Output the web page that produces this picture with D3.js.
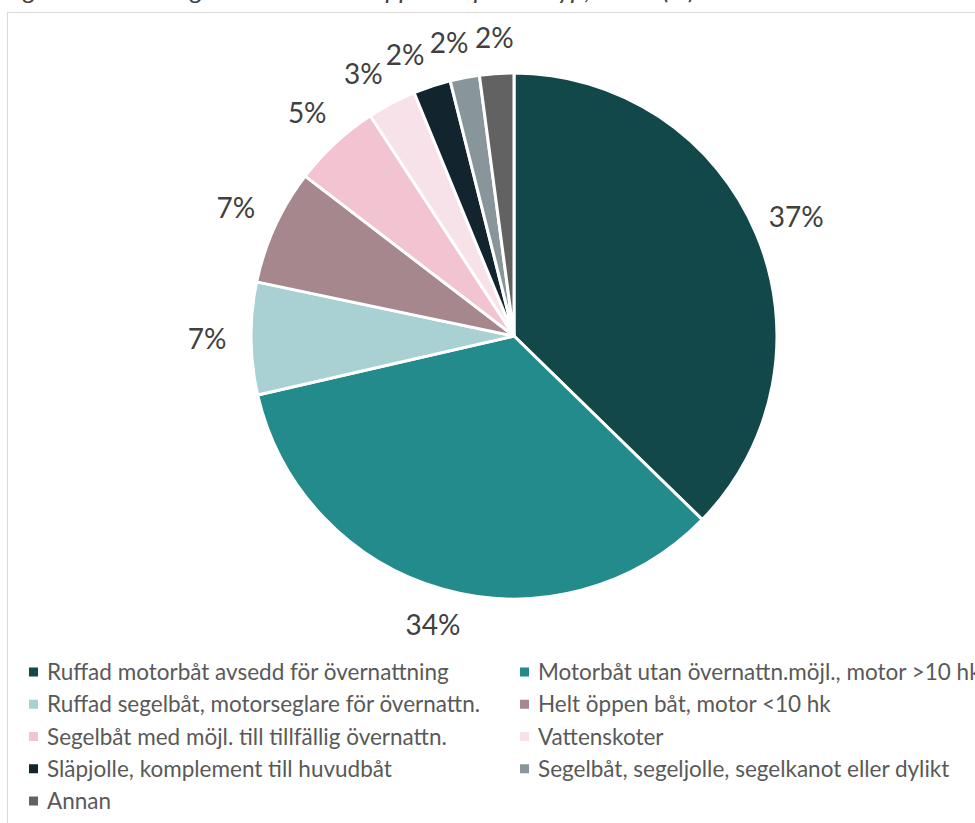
<!DOCTYPE html>
<html>
<head>
<meta charset="utf-8">
<script src="https://cdn.jsdelivr.net/npm/d3@7"></script>
<style>
  body { margin: 0; background: #fff; }
  svg { display: block; }
</style>
</head>
<body>
<div id="pieChart"></div>
<script>
// kategorier och andelar (%), medurs från kl 12
var categories = [
  "Ruffad motorbåt avsedd för övernattning",
  "Motorbåt utan övernattn.möjl., motor >10 hk",
  "Ruffad segelbåt, motorseglare för övernattn.",
  "Helt öppen båt, motor <10 hk",
  "Segelbåt med möjl. till tillfällig övernattn.",
  "Vattenskoter",
  "Släpjolle, komplement till huvudbåt",
  "Segelbåt, segeljolle, segelkanot eller dylikt",
  "Annan"
];
var shares = [37.3, 34.1, 6.9, 7.1, 5.4, 3.0, 2.3, 1.8, 2.1];
var colors = ["#12484a", "#238b8c", "#a9d1d3", "#a6878d", "#f2c3d0",
              "#f8e2e9", "#12252f", "#88969b", "#626262"];
var title = "Figur 6. Fördelning av huvudbåtar uppdelat per båttyp, 2021 (%)";

var width = 975, height = 823;
var cx = 514, cy = 336, radius = 263;

var svg = d3.select("#pieChart")
  .append("svg")
    .attr("width", width)
    .attr("height", height);

// avklippt rubrik ovanför ramen
svg.append("text")
  .attr("x", 4)
  .attr("y", -1)
  .attr("font-family", "Lato")
  .attr("font-style", "italic")
  .attr("font-size", 26)
  .attr("fill", "#404040")
  .text(title);

// diagramram
svg.append("rect")
  .attr("x", 7.5)
  .attr("y", 12.5)
  .attr("width", 1200)
  .attr("height", 1200)
  .attr("fill", "none")
  .attr("stroke", "#d9d9d9")
  .attr("stroke-width", 1);

var color = d3.scaleOrdinal().domain(categories).range(colors);

var pie = d3.pie().sort(null).value(function (d) { return d.value; });
var data = categories.map(function (c, i) { return { name: c, value: shares[i] }; });
var arcs = pie(data);

var arc = d3.arc().innerRadius(0).outerRadius(radius);

var g = svg.append("g")
  .attr("transform", "translate(" + cx + "," + cy + ")");

g.selectAll("path")
  .data(arcs)
  .enter()
  .append("path")
    .attr("d", arc)
    .attr("fill", function (d) { return color(d.data.name); })
    .attr("stroke", "#fff")
    .attr("stroke-width", 3)
    .attr("stroke-linejoin", "round");

// etikettvinklar, små tårtbitar trycks isär bakifrån
var minSep = 8.7 * Math.PI / 180;
var angles = arcs.map(function (d) { return (d.startAngle + d.endAngle) / 2; });
for (var i = angles.length - 2; i >= 0; i--) {
  if (angles[i] > angles[i + 1] - minSep) angles[i] = angles[i + 1] - minSep;
}
function labelR(a) { return radius + 35 + 9 * Math.abs(Math.sin(a)); }

g.selectAll("text.lbl")
  .data(arcs)
  .enter()
  .append("text")
    .attr("class", "lbl")
    .attr("x", function (d, i) { return labelR(angles[i]) * Math.sin(angles[i]); })
    .attr("y", function (d, i) { return -labelR(angles[i]) * Math.cos(angles[i]); })
    .attr("dy", "0.36em")
    .attr("text-anchor", "middle")
    .attr("font-family", "Lato")
    .attr("font-size", 28)
    .attr("fill", "#404040")
    .text(function (d) { return Math.round(d.data.value) + "%"; });

// förklaring i två kolumner
var colX = d3.scaleOrdinal().domain([0, 1]).range([29, 520]);
var rowY = d3.scalePoint()
  .domain(d3.range(Math.ceil(categories.length / 2)))
  .range([672, 801]);

var legend = svg.selectAll("g.leg")
  .data(categories)
  .enter()
  .append("g")
    .attr("class", "leg")
    .attr("transform", function (d, i) {
      return "translate(" + colX(i % 2) + "," + rowY(Math.floor(i / 2)) + ")";
    });

legend.append("rect")
  .attr("x", 0)
  .attr("y", -4.5)
  .attr("width", 9)
  .attr("height", 9)
  .attr("fill", function (d) { return color(d); });

legend.append("text")
  .attr("x", 18)
  .attr("dy", "0.36em")
  .attr("font-family", "Lato")
  .attr("font-size", 22.5)
  .attr("fill", "#595959")
  .text(function (d) { return d; });
</script>
</body>
</html>
